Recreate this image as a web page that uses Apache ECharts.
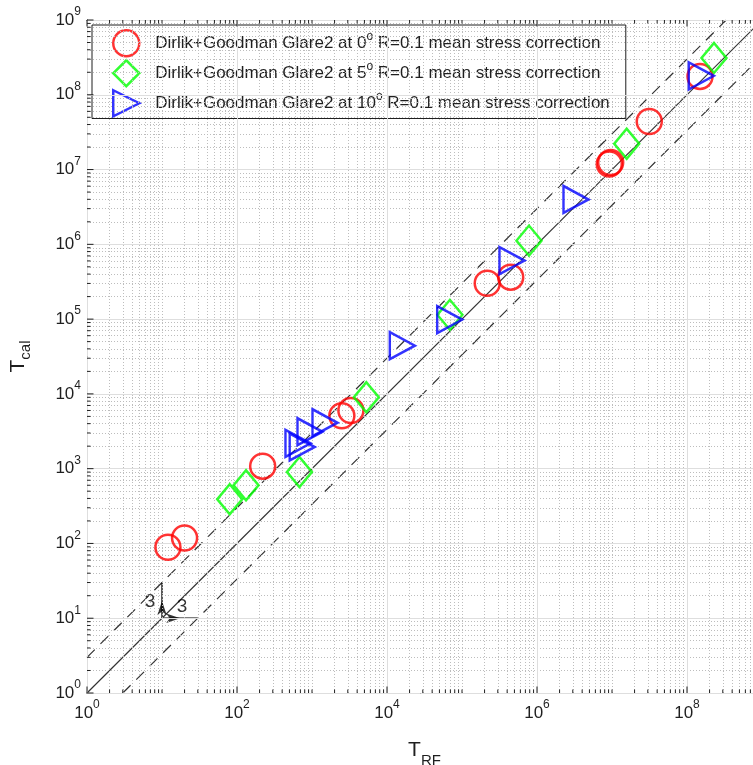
<!DOCTYPE html>
<html>
<head>
<meta charset="utf-8">
<script src="https://cdn.jsdelivr.net/npm/echarts@6/dist/echarts.min.js"></script>
<style>
html, body { margin: 0; padding: 0; background: #fff; }
#chart { width: 753px; height: 765px; }
</style>
</head>
<body>
<div id="chart"></div>
<script>
// legend angles
var angles = ['0', '5', '10'];

// 0 deg - circles
var circX = [12, 20, 220, 2500, 3300, 217000, 446000, 9.2e6, 9.6e6, 3.14e7, 1.49e8];
var circY = [89, 118, 1080, 5100, 6000, 302000, 364000, 1.19e7, 1.24e7, 4.4e7, 1.76e8];
// 5 deg - diamonds
var diaX = [80, 132, 680, 5300, 69000, 782000, 1.57e7, 2.29e8];
var diaY = [390, 600, 900, 9000, 114000, 1.12e6, 2.21e7, 3.11e8];
// 10 deg - triangles
var triX = [650, 740, 940, 1490, 16000, 68500, 464000, 3.31e6, 1.55e8];
var triY = [2180, 1950, 3120, 4110, 44200, 98500, 607000, 3.98e6, 1.79e8];

// reference lines  y = x, y = 3x, y = x/3
var refX = [1, 1e9],   refY = [1, 1e9];
var upX  = [1, 1e9/3], upY  = [3, 1e9];
var loX  = [3, 1e9],   loY  = [1, 1e9/3];

// factor-of-3 annotation
var annX = [10, 10, 30], annY = [30, 10, 10];
var annLabelX = [6.9, 18.5], annLabelY = [16.4, 14.2];

var FONT = '"Liberation Sans", Arial, sans-serif';
var TXT = '#1f1f1f';

function pair(xs, ys) {
    var out = [];
    for (var i = 0; i < xs.length; i++) out.push([xs[i], ys[i]]);
    return out;
}
function expOf(v) { return Math.round(Math.log(v) / Math.LN10); }

// grid / tick positions (decades and 2..9 subdivisions)
var majorX = [], minorX = [], majorY = [], minorY = [];
for (var k = 0; k < 9; k++) {
    var d = Math.pow(10, k);
    if (k % 2 === 0) majorX.push(d); else minorX.push(d);
    majorY.push(d);
    for (var m = 2; m <= 9; m++) { minorX.push(m * d); minorY.push(m * d); }
}
majorY.push(1e9);

var minorStyle = { color: '#bdbdbd', width: 1, type: [1, 2] };
var majorStyle = { color: '#dedede', width: 1, type: 'solid' };
var gridLines = [];
minorX.forEach(function (v) { gridLines.push({ xAxis: v, lineStyle: minorStyle }); });
minorY.forEach(function (v) { gridLines.push({ yAxis: v, lineStyle: minorStyle }); });
majorX.forEach(function (v) { gridLines.push({ xAxis: v, lineStyle: majorStyle }); });
majorY.forEach(function (v) { gridLines.push({ yAxis: v, lineStyle: majorStyle }); });

var xTicks = [], yTicks = [];
majorX.forEach(function (v) { xTicks.push([v, 1, 6.5]); });
minorX.forEach(function (v) { xTicks.push([v, 1, 3.5]); });
majorY.forEach(function (v) { yTicks.push([1, v, 6.5]); });
minorY.forEach(function (v) { yTicks.push([1, v, 3.5]); });

var tickRich = {
    b: { fontFamily: FONT, fontSize: 17, color: TXT },
    e: { fontFamily: FONT, fontSize: 12, color: TXT, padding: [0, 0, 16, 0] }
};

var chart = echarts.init(document.getElementById('chart'));

var option = {
    animation: false,
    backgroundColor: '#fff',
    grid: { left: 87, top: 20, right: -9, bottom: 72, outerBoundsMode: 'none', containLabel: false },
    legend: {
        orient: 'vertical',
        left: 92,
        top: 25,
        padding: [4, 16, 1, 20],
        itemGap: 1.5,
        itemWidth: 26,
        itemHeight: 26,
        backgroundColor: '#fff',
        borderColor: TXT,
        borderWidth: 1,
        borderRadius: 0,
        itemStyle: { borderWidth: 2.5 },
        data: angles,
        formatter: function (name) {
            return 'Dirlik+Goodman Glare2 at ' + name + '{s|o} R=0.1 mean stress correction';
        },
        textStyle: {
            fontFamily: FONT,
            fontSize: 17,
            color: TXT,
            padding: [0, 0, 0, 11],
            rich: {
                s: { fontFamily: FONT, fontSize: 12, color: TXT, padding: [0, 0, 13, 0] }
            }
        }
    },
    xAxis: [
        {
            type: 'log', logBase: 10, min: 1, max: 1e9,
            name: '{t|T}{s|RF}',
            nameLocation: 'middle',
            nameGap: 40,
            nameTextStyle: {
                rich: {
                    t: { fontFamily: FONT, fontSize: 21, color: TXT },
                    s: { fontFamily: FONT, fontSize: 15, color: TXT, padding: [20, 0, 0, 0] }
                }
            },
            axisLine: { show: true, lineStyle: { color: TXT, width: 1 } },
            axisTick: { show: false },
            splitLine: { show: false },
            minorTick: { show: false },
            axisLabel: {
                margin: 6,
                formatter: function (v) {
                    var e = expOf(v);
                    return e % 2 === 0 ? '{b|10}{e|' + e + '}' : '';
                },
                rich: tickRich
            }
        },
        {
            type: 'log', logBase: 10, min: 1, max: 1e9, position: 'top',
            axisLine: { show: true, lineStyle: { color: TXT, width: 1 } },
            axisTick: { show: false },
            axisLabel: { show: false },
            splitLine: { show: false }
        }
    ],
    yAxis: {
        type: 'log', logBase: 10, min: 1, max: 1e9,
        name: '{t|T}{s|cal}',
        nameLocation: 'middle',
        nameGap: 54,
        nameRotate: 90,
        nameTextStyle: {
            rich: {
                t: { fontFamily: FONT, fontSize: 21, color: TXT },
                s: { fontFamily: FONT, fontSize: 15, color: TXT, padding: [14, 0, 0, 0] }
            }
        },
        axisLine: { show: true, lineStyle: { color: TXT, width: 1 } },
        axisTick: { show: false },
        splitLine: { show: false },
        axisLabel: {
            margin: 6,
            formatter: function (v) { return '{b|10}{e|' + expOf(v) + '}'; },
            rich: tickRich
        }
    },
    series: [
        {
            name: 'grid', type: 'line', data: [[1, 1]], showSymbol: false, silent: true,
            lineStyle: { width: 0 }, z: 0,
            markLine: {
                silent: true, symbol: ['none', 'none'], label: { show: false },
                animation: false, data: gridLines
            }
        },
        {
            name: 'xticks', type: 'custom', data: xTicks, silent: true, z: 5,
            renderItem: function (params, api) {
                var v = api.value(0), len = api.value(2);
                var b = api.coord([v, 1]), t = api.coord([v, 1e9]);
                var st = { stroke: TXT, lineWidth: 1 };
                return { type: 'group', children: [
                    { type: 'line', shape: { x1: b[0], y1: b[1], x2: b[0], y2: b[1] - len }, style: st },
                    { type: 'line', shape: { x1: t[0], y1: t[1], x2: t[0], y2: t[1] + len }, style: st }
                ] };
            }
        },
        {
            name: 'yticks', type: 'custom', data: yTicks, silent: true, z: 5,
            renderItem: function (params, api) {
                var v = api.value(1), len = api.value(2);
                var p = api.coord([1, v]);
                return { type: 'line', shape: { x1: p[0], y1: p[1], x2: p[0] + len, y2: p[1] },
                         style: { stroke: TXT, lineWidth: 1 } };
            }
        },
        {
            name: 'ref', type: 'line', data: pair(refX, refY), showSymbol: false, silent: true,
            lineStyle: { color: '#333', width: 1.2 }, z: 3
        },
        {
            name: 'up', type: 'line', data: pair(upX, upY), showSymbol: false, silent: true,
            lineStyle: { color: '#333', width: 1.2, type: [11, 8] }, z: 3
        },
        {
            name: 'lo', type: 'line', data: pair(loX, loY), showSymbol: false, silent: true,
            lineStyle: { color: '#333', width: 1.2, type: [11, 8] }, z: 3
        },
        {
            name: 'ann', type: 'line', data: pair(annX, annY), showSymbol: false, silent: true,
            lineStyle: { color: '#000', width: 1.3 }, z: 4
        },
        {
            name: 'annArrows', type: 'scatter', silent: true, z: 4,
            data: [
                { value: [10, 17], symbolRotate: 0 },
                { value: [17.5, 10], symbolRotate: -90 }
            ],
            symbol: 'arrow', symbolSize: [7, 14],
            itemStyle: { color: '#000' }
        },
        {
            name: 'annText', type: 'scatter', silent: true, z: 4,
            data: pair(annLabelX, annLabelY), symbolSize: 1,
            itemStyle: { color: 'rgba(0,0,0,0)' },
            label: {
                show: true, position: 'inside', formatter: '3',
                fontFamily: FONT, fontSize: 19, color: '#000'
            }
        },
        {
            name: angles[0], type: 'scatter', data: pair(circX, circY), z: 6,
            symbol: 'circle', symbolSize: 25,
            itemStyle: { color: 'rgba(0,0,0,0)', borderColor: '#ff0000', borderWidth: 2.5 }
        },
        {
            name: angles[1], type: 'scatter', data: pair(diaX, diaY), z: 6,
            symbol: 'diamond', symbolSize: [25, 30],
            itemStyle: { color: 'rgba(0,0,0,0)', borderColor: '#00ff00', borderWidth: 2.5 }
        },
        {
            name: angles[2], type: 'scatter', data: pair(triX, triY), z: 6,
            symbol: 'path://M0,0L2,1L0,2Z', symbolSize: [25, 27],
            itemStyle: { color: 'rgba(0,0,0,0)', borderColor: '#0000ff', borderWidth: 2.5 }
        }
    ]
};

chart.setOption(option);
</script>
</body>
</html>
